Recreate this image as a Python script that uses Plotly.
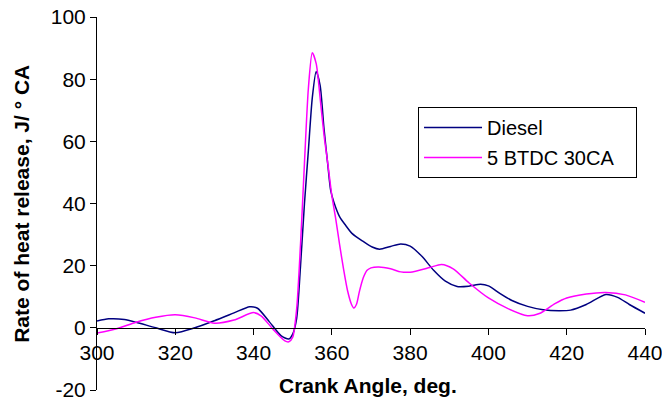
import plotly.graph_objects as go

# Crank angle (deg) and rate of heat release (J/°CA) for each run
diesel_angle = [300, 303, 307, 310, 315, 320, 325, 330, 335, 339, 341, 344, 347, 349,
                350, 351, 352, 353, 354, 355, 356, 357, 358, 359, 359.7, 360.5, 362, 363.5,
                365.2, 368, 370.3, 372.2, 375, 377.6, 380, 383, 386, 389, 392, 395, 398,
                400, 403, 406, 410, 414, 418, 421, 425, 430, 433, 436, 440]
diesel_hrr = [2.2, 2.9, 2.7, 1.8, 0.0, -1.6, 0.0, 2.3, 4.8, 6.8, 6.3, 2.0, -2.5, -3.6,
              -2.0, 3.0, 20.0, 40.0, 57.0, 74.0, 82.5, 78.0, 64.0, 52.0, 44.2, 40.5, 35.7, 33.0,
              30.3, 27.8, 26.0, 25.3, 26.2, 27.0, 26.3, 23.0, 18.5, 15.0, 13.3, 13.4, 14.0,
              13.5, 11.0, 8.8, 6.9, 5.8, 5.5, 5.7, 7.5, 10.7, 9.8, 7.5, 4.7]

btdc_angle = [300, 305, 310, 315, 320, 325, 330, 335, 340, 342, 345, 348, 349,
              350, 351, 352, 353, 354, 355, 356, 357, 358, 359, 360, 361, 362, 363,
              364, 365, 365.6, 366.3, 367, 368, 369, 370, 372, 375, 377.6, 380, 385, 388,
              391, 395, 400, 405, 410, 413, 417, 420, 425, 430, 435, 440]
btdc_hrr = [-1.7, -0.3, 1.8, 3.4, 4.2, 3.2, 1.5, 2.5, 4.9, 3.8, -0.5, -4.2, -4.5,
            -3.0, 6.0, 27.0, 53.0, 77.0, 88.5, 85.0, 74.0, 62.0, 52.5, 42.5, 35.0, 26.6, 18.8,
            12.0, 7.6, 6.4, 7.6, 11.5, 16.0, 18.5, 19.3, 19.6, 19.0, 18.0, 17.9, 19.4, 20.4,
            19.0, 14.5, 9.6, 6.2, 3.9, 4.6, 7.8, 9.6, 10.9, 11.4, 10.6, 8.2]

x_ticks = [300, 320, 340, 360, 380, 400, 420, 440]
y_ticks = [-20, 0, 20, 40, 60, 80, 100]
y_tick_labels = ["-20", "0", "20", "40", "60", "80", "100"]

font = "Liberation Sans, Arial, sans-serif"
pad = "\u00a0\u00a0\u00a0"  # right padding inside the legend box

fig = go.Figure()
fig.add_trace(go.Scatter(x=diesel_angle, y=diesel_hrr, mode="lines", name="Diesel",
                         legendgroup="a",
                         line=dict(color="#000080", width=1.5, shape="spline", smoothing=0.7)))
fig.add_trace(go.Scatter(x=btdc_angle, y=btdc_hrr, mode="lines", name="5 BTDC 30CA" + pad,
                         legendgroup="b",
                         line=dict(color="#FF00FF", width=1.5, shape="spline", smoothing=0.7)))

fig.update_layout(
    width=662, height=403,
    margin=dict(l=97, r=17, t=17, b=13, autoexpand=False),
    paper_bgcolor="white", plot_bgcolor="white",
    font=dict(family=font, size=20, color="black"),
    showlegend=True,
    legend=dict(x=0.5858, y=0.7587, xanchor="left", yanchor="top",
                bordercolor="black", borderwidth=1, bgcolor="white",
                font=dict(size=20), traceorder="grouped", tracegroupgap=1,
                itemwidth=58),
    xaxis=dict(range=[300, 440], tickvals=x_ticks, showgrid=False, zeroline=False,
               showline=True, linecolor="black", linewidth=1,
               ticks="outside", ticklen=6, tickcolor="black",
               anchor="free", position=20 / 120, automargin=False,
               ticklabeloverflow="allow", tickfont=dict(size=21)),
    yaxis=dict(range=[-20, 100], tickvals=y_ticks, ticktext=y_tick_labels,
               showgrid=False, zeroline=False,
               showline=True, linecolor="black", linewidth=1,
               ticks="outside", ticklen=6, tickcolor="black", automargin=False,
               ticklabeloverflow="allow", tickfont=dict(size=21)),
    annotations=[
        dict(text="<b>Crank Angle, deg.</b>", xref="paper", yref="paper",
             x=0.4945, y=0.011, xanchor="center", yanchor="middle",
             showarrow=False, font=dict(size=21)),
        dict(text="<b>Rate of heat release, J/ ° CA</b>", xref="paper", yref="paper",
             x=-0.137, y=0.499, xanchor="center", yanchor="middle", textangle=-90,
             showarrow=False, font=dict(size=21)),
    ],
)

fig.write_html("out.html")
